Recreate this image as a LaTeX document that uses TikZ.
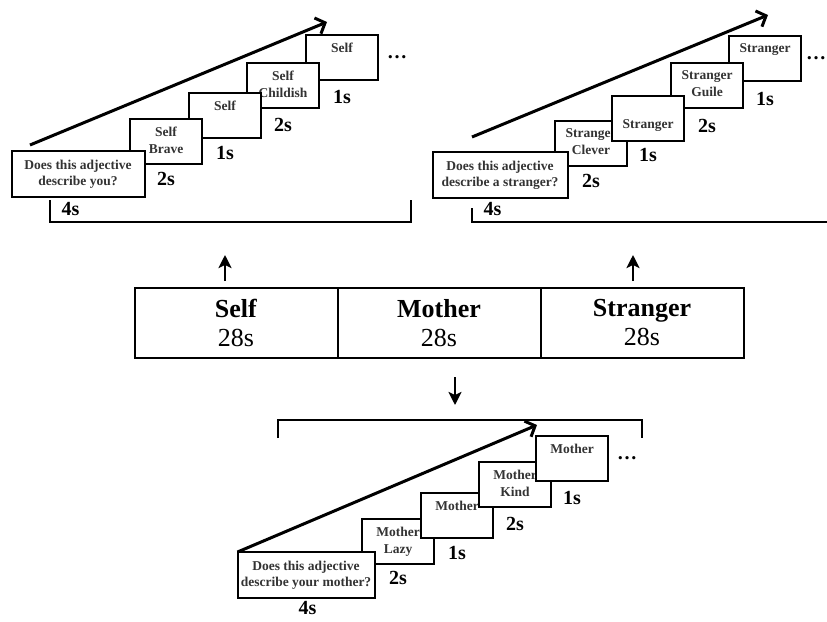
\documentclass[tikz,border=0pt]{standalone}
\usepackage{fontspec}
\setmainfont{Liberation Serif}
\usetikzlibrary{positioning,calc,arrows.meta}

\begin{document}
\begin{tikzpicture}[x=1pt, y=-1pt,
  card/.style={draw, line width=2pt, fill=white, minimum width=72pt, minimum height=45pt, inner sep=0pt, outer sep=0pt},
  ask/.style={card, minimum width=133pt, minimum height=46pt, align=center, font=\fontsize{13.5}{16}\selectfont\bfseries, text=black!80},
  word/.style={anchor=north, yshift=-8pt, align=center, inner sep=0pt, font=\fontsize{13.5}{17}\selectfont\bfseries, text=black!80},
  dur/.style={inner sep=0pt, font=\fontsize{20}{20}\selectfont\bfseries},
  block/.style={draw, line width=2pt, minimum width=203pt, minimum height=70pt, inner sep=0pt, outer sep=0pt, align=center, font=\fontsize{26}{29}\selectfont},
  flow/.style={line width=3pt, -{Straight Barb[length=8pt,width=17pt]}},
  jump/.style={line width=2.8pt, -{Stealth[length=13pt,width=13pt,inset=3pt]}},
  brace/.style={line width=2.6pt}]

\useasboundingbox (0,0) rectangle (827,621);

% self run
\coordinate (selfFrom) at (30,145);
\coordinate (selfTo) at (327,22);
\draw[flow] (selfFrom) -- (selfTo);
\node[card, label={[word]north:{Self}}] (s4) at (342,57) {};
\node[card, label={[word]north:{Self\\Childish}}] (s3) at (283,85) {};
\node[card, label={[word]north:{Self}}] (s2) at (225,115) {};
\node[card, label={[word]north:{Self\\Brave}}] (s1) at (166,141) {};
\node[ask] (qS) at (78,174) {Does this adjective\\describe you?};
\node[dur, below=9pt of s1] {2s};
\node[dur, below=9pt of s2] {1s};
\node[dur, below=11pt of s3] {2s};
\node[dur, below=11pt of s4] {1s};
\node[dur, right=9pt of s4] {\dots};
\node[dur, below right=5pt and 50pt of qS.south west] {4s};
\draw[brace] (50,200) |- (411,222) -- (411,200);

% stranger run
\coordinate (strangerFrom) at (472,137);
\coordinate (strangerTo) at (768,15);
\draw[flow] (strangerFrom) -- (strangerTo);
\node[card, label={[word]north:{Stranger}}] (t4) at (765,58) {};
\node[card, label={[word]north:{Stranger\\Guile}}] (t3) at (707,85) {};
\node[card, label={[word]north:{Stranger\\Clever}}] (t1) at (591,143) {};
\node[ask, minimum width=135pt] (qT) at (500,175) {Does this adjective\\describe a stranger?};
\node[card] (t2) at (648,118) {};
\node[word, anchor=center, yshift=0pt] at (t2) {Stranger};
\node[dur, below=9pt of t1] {2s};
\node[dur, below=8pt of t2] {1s};
\node[dur, below=12pt of t3] {2s};
\node[dur, below=12pt of t4] {1s};
\node[dur, right=5pt of t4] {\dots};
\node[dur, below right=4pt and 51pt of qT.south west] {4s};
\draw[brace] (472,208) |- (835,222);

% blocks
\node[block] (blkSelf) at (236,323) {\textbf{Self}\\28s};
\node[block, right=0pt of blkSelf] (blkMother) {\textbf{Mother}\\28s};
\node[block, right=0pt of blkMother] (blkStranger) {\textbf{Stranger}\\28s};
\draw[jump] ($(blkSelf.north)+(-11,-7)$) -- ($(blkSelf.north)+(-11,-33)$);
\draw[jump] ($(blkStranger.north)+(-9,-7)$) -- ($(blkStranger.north)+(-9,-33)$);
\draw[jump] ($(blkMother.south)+(16,19)$) -- ($(blkMother.south)+(16,47)$);

% mother run
\draw[brace] (278,438) |- (642,420) -- (642,438);
\node[card, label={[word]north:{Mother\\Lazy}}] (m1) at (398,541) {};
\node[ask, minimum width=137pt] (qM) at (306,575) {Does this adjective\\describe your mother?};
\coordinate (motherTo) at (537,425);
\draw[flow] (qM.north west) -- (motherTo);
\node[card, label={[word]north:{Mother}}] (m2) at (457,515) {};
\node[card, label={[word]north:{Mother\\Kind}}] (m3) at (515,484) {};
\node[card, label={[word]north:{Mother}}] (m4) at (572,458) {};
\node[dur, below=8pt of m1] {2s};
\node[dur, below=9pt of m2] {1s};
\node[dur, below=11pt of m3] {2s};
\node[dur, below=11pt of m4] {1s};
\node[dur, right=9pt of m4] {\dots};
\node[dur, below right=3pt and 61pt of qM.south west] {4s};
\end{tikzpicture}
\end{document}
